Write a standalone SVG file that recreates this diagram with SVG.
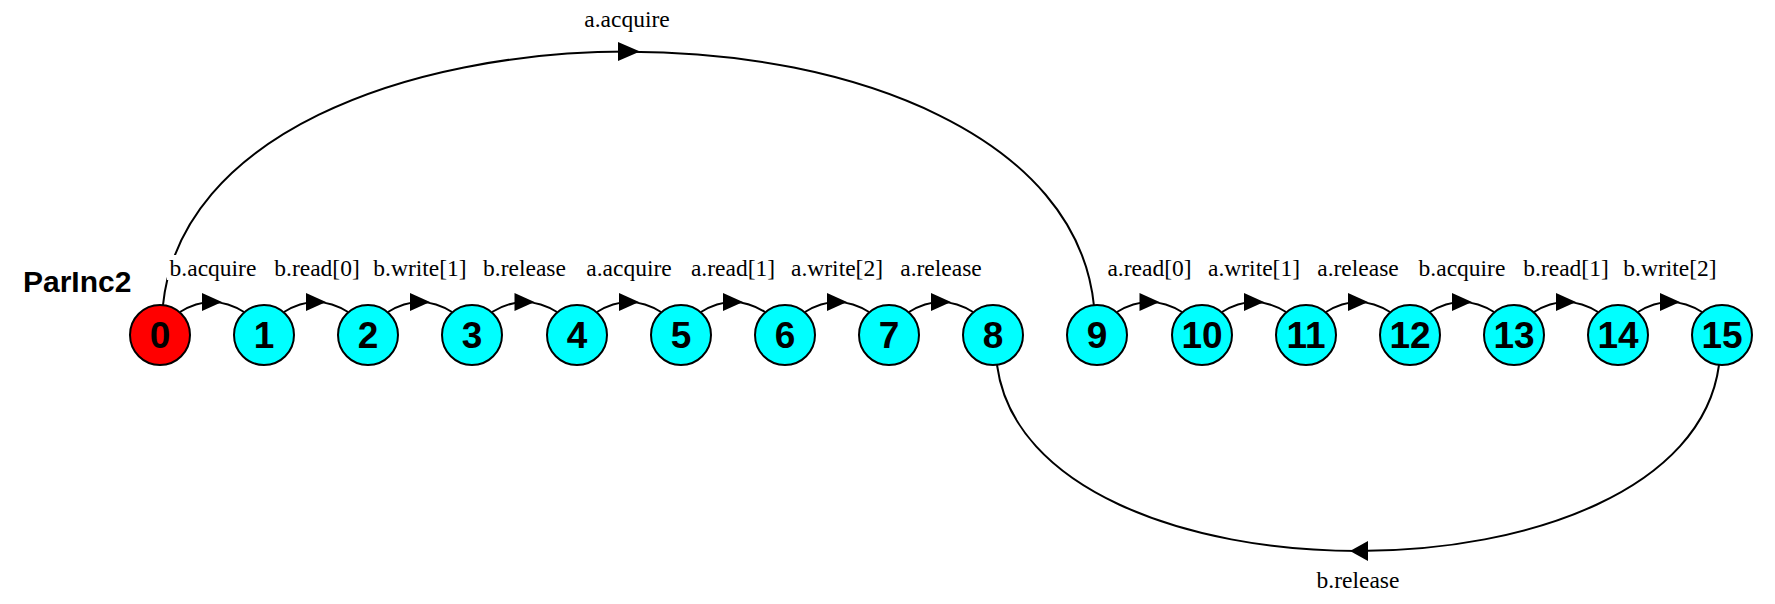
<svg xmlns="http://www.w3.org/2000/svg" width="1775" height="604" viewBox="0 0 1775 604">
<style>
.n{stroke:#000;stroke-width:2}
.s0{fill:#ff0000}
.s{fill:#00ffff}
.d{font-family:"Liberation Sans",Arial,sans-serif;font-weight:bold;font-size:37px;text-anchor:middle;fill:#000}
.e{fill:none;stroke:#000;stroke-width:2}
.a{fill:#000}
.l{font-family:"Liberation Serif","Times New Roman",serif;font-size:23.5px;text-anchor:middle;fill:#000}
.t{font-family:"Liberation Sans",Arial,sans-serif;font-weight:bold;font-size:30px;fill:#000}
</style>
<rect width="1775" height="604" fill="#fff"/>
<text class="t" x="23" y="292">ParInc2</text>
<g id="connectors">
<path class="e" d="M163,305 C198,-33 1060,-33 1094,306"/>
<polygon class="a" points="618,42 640,51.5 618,61"/>
<path class="e" d="M997,365 C1030,613 1686,613 1719,365"/>
<polygon class="a" points="1350,551 1368,541 1368,561"/>
<rect x="167" y="255" width="92" height="25" fill="#fff"/>
<path class="e" d="M180,312 Q212,292 244,312"/><polygon class="a" points="202,293 222,302 202,311"/>
<path class="e" d="M284,312 Q316,292 348,312"/><polygon class="a" points="306,293 326,302 306,311"/>
<path class="e" d="M388,312 Q420,292 452,312"/><polygon class="a" points="410,293 430,302 410,311"/>
<path class="e" d="M492,312 Q524.5,292 557,312"/><polygon class="a" points="514.5,293 534.5,302 514.5,311"/>
<path class="e" d="M597,312 Q629,292 661,312"/><polygon class="a" points="619,293 639,302 619,311"/>
<path class="e" d="M701,312 Q733,292 765,312"/><polygon class="a" points="723,293 743,302 723,311"/>
<path class="e" d="M805,312 Q837,292 869,312"/><polygon class="a" points="827,293 847,302 827,311"/>
<path class="e" d="M909,312 Q941,292 973,312"/><polygon class="a" points="931,293 951,302 931,311"/>
<path class="e" d="M1117,312 Q1149.5,292 1182,312"/><polygon class="a" points="1139.5,293 1159.5,302 1139.5,311"/>
<path class="e" d="M1222,312 Q1254,292 1286,312"/><polygon class="a" points="1244,293 1264,302 1244,311"/>
<path class="e" d="M1326,312 Q1358,292 1390,312"/><polygon class="a" points="1348,293 1368,302 1348,311"/>
<path class="e" d="M1430,312 Q1462,292 1494,312"/><polygon class="a" points="1452,293 1472,302 1452,311"/>
<path class="e" d="M1534,312 Q1566,292 1598,312"/><polygon class="a" points="1556,293 1576,302 1556,311"/>
<path class="e" d="M1638,312 Q1670,292 1702,312"/><polygon class="a" points="1660,293 1680,302 1660,311"/>
<text class="l" x="627" y="27">a.acquire</text>
<text class="l" x="1358" y="588">b.release</text>
<text class="l" x="213" y="276">b.acquire</text>
<text class="l" x="317" y="276">b.read[0]</text>
<text class="l" x="420" y="276">b.write[1]</text>
<text class="l" x="524.5" y="276">b.release</text>
<text class="l" x="629" y="276">a.acquire</text>
<text class="l" x="733" y="276">a.read[1]</text>
<text class="l" x="837" y="276">a.write[2]</text>
<text class="l" x="941" y="276">a.release</text>
<text class="l" x="1149.5" y="276">a.read[0]</text>
<text class="l" x="1254" y="276">a.write[1]</text>
<text class="l" x="1358" y="276">a.release</text>
<text class="l" x="1462" y="276">b.acquire</text>
<text class="l" x="1566" y="276">b.read[1]</text>
<text class="l" x="1670" y="276">b.write[2]</text>
</g>
<g id="node0"><circle class="n s0" cx="160" cy="335" r="30"/><text class="d" x="160" y="348">0</text></g>
<g id="node1"><circle class="n s" cx="264" cy="335" r="30"/><text class="d" x="264" y="348">1</text></g>
<g id="node2"><circle class="n s" cx="368" cy="335" r="30"/><text class="d" x="368" y="348">2</text></g>
<g id="node3"><circle class="n s" cx="472" cy="335" r="30"/><text class="d" x="472" y="348">3</text></g>
<g id="node4"><circle class="n s" cx="577" cy="335" r="30"/><text class="d" x="577" y="348">4</text></g>
<g id="node5"><circle class="n s" cx="681" cy="335" r="30"/><text class="d" x="681" y="348">5</text></g>
<g id="node6"><circle class="n s" cx="785" cy="335" r="30"/><text class="d" x="785" y="348">6</text></g>
<g id="node7"><circle class="n s" cx="889" cy="335" r="30"/><text class="d" x="889" y="348">7</text></g>
<g id="node8"><circle class="n s" cx="993" cy="335" r="30"/><text class="d" x="993" y="348">8</text></g>
<g id="node9"><circle class="n s" cx="1097" cy="335" r="30"/><text class="d" x="1097" y="348">9</text></g>
<g id="node10"><circle class="n s" cx="1202" cy="335" r="30"/><text class="d" x="1202" y="348">10</text></g>
<g id="node11"><circle class="n s" cx="1306" cy="335" r="30"/><text class="d" x="1306" y="348">11</text></g>
<g id="node12"><circle class="n s" cx="1410" cy="335" r="30"/><text class="d" x="1410" y="348">12</text></g>
<g id="node13"><circle class="n s" cx="1514" cy="335" r="30"/><text class="d" x="1514" y="348">13</text></g>
<g id="node14"><circle class="n s" cx="1618" cy="335" r="30"/><text class="d" x="1618" y="348">14</text></g>
<g id="node15"><circle class="n s" cx="1722" cy="335" r="30"/><text class="d" x="1722" y="348">15</text></g>
</svg>
